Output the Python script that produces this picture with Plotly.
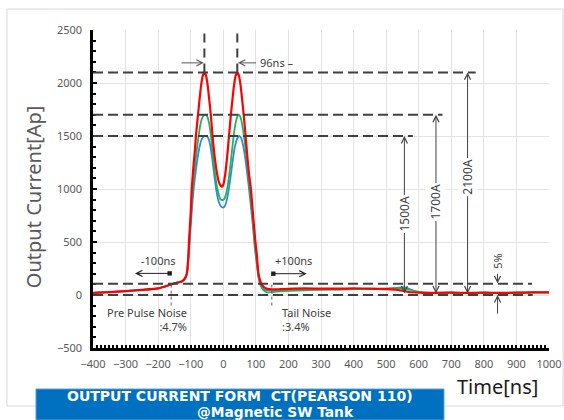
import plotly.graph_objects as go

# ---- data ----
red_t = [-400, -350, -300, -250, -200, -160, -140, -128, -120, -115, -112, -108, -105, -100, -97, -92, -87, -84, -78, -73, -68, -63, -58,
         -53, -48, -43, -38, -33, -27, -20, -14, -8, -4, 0, 6, 12, 17.5, 23, 28, 33, 38, 43, 48, 53, 58, 63, 68.5, 74, 79, 85, 91,
         98, 103, 108, 115, 123, 135, 150, 175, 200, 250, 300, 350, 400, 450, 500, 530, 550, 570, 600, 650, 700, 750, 800, 850,
         900, 950, 1000]
red_i = [20, 28, 37, 48, 62, 100, 118, 128, 150, 175, 204, 330, 520, 780, 990, 1200, 1370, 1500, 1690, 1840, 1980, 2070, 2100,
         2070, 1980, 1840, 1690, 1500, 1320, 1160, 1070, 1030, 1022, 1040, 1140, 1310, 1500, 1690, 1840, 1980, 2070, 2100, 2070,
         1980, 1840, 1690, 1500, 1300, 1140, 990, 770, 520, 380, 204, 120, 78, 58, 53, 55, 58, 62, 60, 60, 62, 60, 55, 50, 40,
         28, 22, 20, 22, 20, 22, 20, 22, 24, 25]

green_t = [-400, -350, -300, -250, -200, -160, -140, -128, -120, -115, -110, -105, -100, -95, -90, -84, -78, -72, -66, -60, -55,
           -50, -45, -40, -35, -29, -22, -15, -9, -3, 3, 9, 15, 21, 27, 33, 39, 46, 51, 56, 61, 66, 72, 78, 84, 90, 97, 103, 108,
           115, 123, 135, 150, 175, 200, 250, 300, 350, 400, 450, 500, 540, 570, 610, 650, 700, 750, 800, 850, 900, 950, 1000]
green_i = [20, 28, 37, 48, 62, 100, 118, 126, 145, 170, 240, 470, 720, 960, 1130, 1300, 1450, 1580, 1660, 1695, 1700, 1690, 1640,
           1550, 1420, 1240, 1070, 960, 905, 895, 905, 960, 1060, 1200, 1370, 1530, 1640, 1700, 1690, 1640, 1550, 1440, 1280,
           1110, 930, 730, 480, 320, 180, 90, 45, 25, 28, 35, 40, 45, 50, 52, 55, 58, 60, 66, 50, 25, 20, 22, 20, 22, 20, 22, 24, 25]

blue_t = [-400, -350, -300, -250, -200, -160, -140, -128, -120, -115, -110, -105, -100, -95, -90, -84, -78, -72, -66, -60, -52,
          -46, -40, -34, -28, -21, -14, -7, -1, 5, 11, 17, 23, 29, 35, 42, 49, 55, 61, 67, 73, 79, 85, 91, 97, 103, 108, 115,
          123, 135, 150, 200, 250, 300, 350, 400, 450, 500, 530, 555, 585, 610, 650, 700, 750, 800, 850, 900, 950, 1000]
blue_i = [20, 28, 37, 48, 62, 100, 118, 125, 140, 165, 230, 420, 650, 860, 1030, 1180, 1310, 1410, 1470, 1495, 1500, 1480, 1410,
          1290, 1140, 980, 880, 835, 825, 840, 900, 1000, 1130, 1270, 1390, 1470, 1500, 1480, 1410, 1300, 1160, 1000, 830, 650,
          440, 290, 170, 90, 55, 45, 45, 48, 50, 52, 54, 55, 57, 60, 64, 75, 40, 25, 20, 22, 20, 22, 20, 22, 24, 25]

x_ticks = [-400, -300, -200, -100, 0, 100, 200, 300, 400, 500, 600, 700, 800, 900, 1000]
y_ticks = [-500, 0, 500, 1000, 1500, 2000, 2500]

peak_levels = [1500, 1700, 2100]
peak_labels = ["1500A", "1700A", "2100A"]

FONT = "Noto Sans"
TXT = "#404040"
DASH = "#404040"

fig = go.Figure()
fig.add_trace(go.Scatter(x=blue_t, y=blue_i, mode="lines", line=dict(color="#2E8BD8", width=1.8, shape="spline", smoothing=0.6), showlegend=False))
fig.add_trace(go.Scatter(x=green_t, y=green_i, mode="lines", line=dict(color="#1FB45A", width=1.8, shape="spline", smoothing=0.6), showlegend=False))
fig.add_trace(go.Scatter(x=red_t, y=red_i, mode="lines", line=dict(color="#FF0000", width=2.2, shape="spline", smoothing=0.6), showlegend=False))

shapes = []
# outer chart border
shapes.append(dict(type="rect", xref="paper", yref="paper", x0=-0.1886, x1=1.0307, y0=-0.1824, y1=1.066,
                   line=dict(color="#D9D9D9", width=1), layer="below"))
# horizontal dashed reference lines
for lvl, xe in zip([2100, 1700, 1500, 105, 0], [775, 673, 582, 948, 950]):
    shapes.append(dict(type="line", xref="x", yref="y", x0=-400, x1=xe, y0=lvl, y1=lvl,
                       line=dict(color=DASH, width=2, dash="10px,5px")))
# vertical dashed lines at peaks
for xp in [-58, 43]:
    shapes.append(dict(type="line", xref="x", yref="y", x0=xp, x1=xp, y0=2100, y1=2490,
                       line=dict(color=DASH, width=2, dash="9px,6px")))
# dotted lines at noise boundaries
for xp in [-160, 149]:
    shapes.append(dict(type="line", xref="x", yref="y", x0=xp, x1=xp, y0=-100, y1=100,
                       line=dict(color="#606060", width=1, dash="dot")))
# blue title box
shapes.append(dict(type="rect", xref="paper", yref="paper", x0=-0.125, x1=0.7697, y0=-0.2264, y1=-0.129,
                   fillcolor="#0070C0", line=dict(color="#5B9BD5", width=1)))

ann = []
def arrow(xh, yh, xt, yt, both=False, start_sq=False, color="#595959"):
    d = dict(x=xh, y=yh, ax=xt, ay=yt, xref="x", yref="y", axref="x", ayref="y", text="",
             showarrow=True, arrowhead=5, arrowsize=1.2, arrowwidth=1, arrowcolor=color, standoff=0, startstandoff=0)
    if both:
        d.update(arrowside="end+start", startarrowhead=5, startarrowsize=1.2)
    if start_sq:
        d.update(arrowside="end+start", startarrowhead=7, startarrowsize=1.1)
    ann.append(d)

def label(x, y, text, size=11, color=TXT, ref="x", **kw):
    d = dict(x=x, y=y, xref=ref, yref=("y" if ref == "x" else "paper"), text=text, showarrow=False,
             xanchor="center", yanchor="middle", font=dict(family=FONT, size=size, color=color))
    d.update(kw)
    ann.append(d)

# 96 ns arrows
arrow(-60, 2190, -133, 2190)
arrow(45, 2190, 105, 2190)
label(108, 2190, "96ns –", xanchor="left")
# vertical amplitude arrows
for lvl, xp, lab, ly in zip(peak_levels, [556, 653, 750], peak_labels, [763, 882, 1112]):
    arrow(xp, lvl, xp, 0, both=True, color="#404040")
    label(xp, ly, lab, size=12, textangle=-90, bgcolor="white")
# 5% arrows
arrow(842, 110, 842, 215, color="#404040")
arrow(842, 0, 842, -190, color="#404040")
label(842, 318, "5%", textangle=-90)
# -100ns / +100ns arrows
arrow(-271, 204, -160, 204, start_sq=True, color="#202020")
arrow(256, 201, 149, 201, start_sq=True, color="#202020")
label(-199, 323, "-100ns")
label(215, 330, "+100ns")
label(-105, -234, "Pre Pulse Noise<br>:4.7%", xanchor="right", align="right")
label(175, -234, "Tail Noise<br>:3.4%", xanchor="left", align="left")
# axis titles
label(-0.129, 0.475, "Output Current[Ap]", size=20, color="#595959", ref="paper", textangle=-90)
label(0.887, -0.1216, "Time[ns]", size=20, color="#1a1a1a", ref="paper")
# title box text
ann.append(dict(x=0.3224, y=-0.151, xref="paper", yref="paper", text="<b>OUTPUT CURRENT FORM  CT(PEARSON 110)</b>",
                showarrow=False, xanchor="center", yanchor="middle",
                font=dict(family="DejaVu Sans", size=14, color="white")))
ann.append(dict(x=0.4002, y=-0.2013, xref="paper", yref="paper", text="<b>@Magnetic SW Tank</b>",
                showarrow=False, xanchor="center", yanchor="middle",
                font=dict(family="DejaVu Sans", size=13.8, color="white")))

fig.update_layout(
    width=564, height=420,
    margin=dict(l=93, r=15, t=30, b=72, autoexpand=False),
    paper_bgcolor="white", plot_bgcolor="white",
    shapes=shapes, annotations=ann, showlegend=False,
    xaxis=dict(range=[-400, 1000], tickvals=x_ticks, showgrid=True, gridcolor="#E3E3E3", gridwidth=1,
               zeroline=False, showline=True, linecolor="black", linewidth=2.5, automargin=False,
               ticks="inside", ticklen=3, tickcolor="black", tickwidth=1.5,
               minor=dict(dtick=12.5, ticks="inside", ticklen=3, tickcolor="black", tickwidth=1.5, showgrid=False),
               tickfont=dict(family=FONT, size=11, color="#595959"), ticklabelstandoff=4),
    yaxis=dict(range=[-500, 2500], tickvals=y_ticks, showgrid=True, gridcolor="#E3E3E3", gridwidth=1,
               zeroline=False, showline=True, linecolor="black", linewidth=2.5, automargin=False,
               ticks="inside", ticklen=4, tickcolor="black", tickwidth=1.5,
               minor=dict(dtick=100, ticks="inside", ticklen=3, tickcolor="black", tickwidth=1.5, showgrid=False),
               tickfont=dict(family=FONT, size=11, color="#595959"), ticklabelstandoff=6),
)

fig.write_html("out.html", config={"displayModeBar": False},
               post_script="document.body.style.margin='0';document.body.style.overflow='hidden';")
